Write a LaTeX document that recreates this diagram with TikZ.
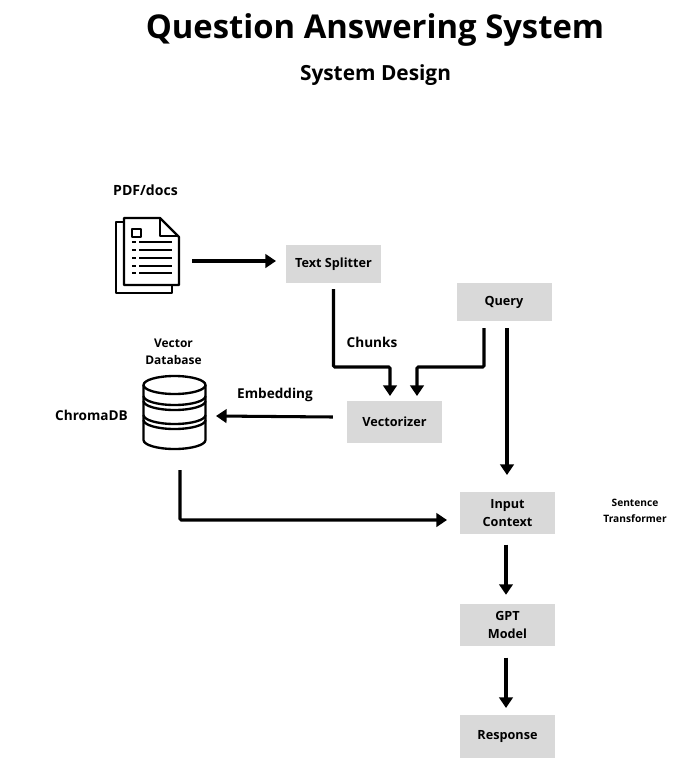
\documentclass[tikz,border=0pt]{standalone}
\usepackage{fontspec}
\setmainfont{Open Sans}
\usetikzlibrary{positioning}
\usetikzlibrary{arrows.meta}
\tikzset{
  procbox/.style={fill=gray!30, minimum width=2.85cm, minimum height=1.27cm, align=center, font=\bfseries\fontsize{10.8}{14.8}\selectfont, inner sep=0pt},
  label/.style={align=center, font=\bfseries\fontsize{11.6}{14}\selectfont, inner sep=0pt},
  flow/.style={-{Triangle[width=11.5pt,length=9pt]}, line width=2.6pt, rounded corners=1pt},
  icon/.style={line width=2pt, line join=round}
}
\begin{document}
\begin{tikzpicture}[x=0.03cm,y=-0.03cm]
            \useasboundingbox (0,0) rectangle (697,780);
            % Headings
            \node[font=\bfseries\fontsize{28}{34}\selectfont, inner sep=0pt] (title) at (375,30) {Question Answering System};
            \node[font=\bfseries\fontsize{17.8}{20}\selectfont, inner sep=0pt] (subtitle) at (375.5,75) {System Design};

            % Process boxes
            \node[procbox, minimum height=1.14cm] (splitter) at (333.5,264) {\raisebox{-2.6pt}{Text Splitter}};
            \node[procbox, minimum height=1.14cm] (query) at (504,302) {\raisebox{-3pt}{Query}};
            \node[procbox] (vectorizer) at (394.5,422) {\raisebox{-0.8pt}{Vectorizer}};
            \node[procbox] (context) at (507.5,513) {Input\\Context};
            \node[procbox] (gpt) at (507.5,625) {GPT\\Model};
            \node[procbox] (response) at (507.5,736.5) {\raisebox{-3pt}{Response}};

            % Icon anchors
            \node[minimum width=1.95cm, minimum height=2.25cm, inner sep=0pt] (docs) at (147.5,255) {};
            \node[minimum width=1.86cm, minimum height=2.28cm, inner sep=0pt] (database) at (174,413) {};

            % Document icon
            \draw[icon] (124,222) -- (116,222) -- (116,293) -- (172,293) -- (172,285);
            \draw[icon] (124,218) -- (160,218) -- (179,237) -- (179,285) -- (124,285) -- cycle;
            \draw[icon] (160,218) -- (160,236) -- (179,236);
            \draw[icon] (132,229) rectangle (141,237);
            \foreach \rowy in {242,250,258,266,273} {
                \draw[icon] (132,\rowy) -- (136,\rowy);
                \draw[icon] (139,\rowy) -- (172,\rowy);
            }

            % Database icon
            \draw[icon] (174.5,385) ellipse [x radius=31, y radius=9];
            \draw[icon] (143.5,385) -- (143.5,440) arc [start angle=180, end angle=360, x radius=31, y radius=-9] -- (205.5,385);
            \foreach \arcy in {396,401,415,420} {
                \draw[icon] (143.5,\arcy) arc [start angle=180, end angle=360, x radius=31, y radius=-9];
            }

            % Labels
            \node[label, font=\bfseries\fontsize{12}{14}\selectfont] (pdflabel) at (145.5,190.5) {PDF/docs};
            \node[label, font=\bfseries\fontsize{10.2}{14.5}\selectfont] (dblabel) at (173.5,351.5) {Vector\\Database};
            \node[label] (chromalabel) at (91.5,415) {ChromaDB};
            \node[label] (chunkslabel) at (372,342.5) {Chunks};
            \node[label] (embedlabel) at (275,394.5) {Embedding};
            \node[label, font=\bfseries\fontsize{8.7}{13.5}\selectfont] (stlabel) at (635,510.5) {Sentence\\Transformer};

            % Arrow ends
            \coordinate (chunksin) at (390,396);
            \coordinate (queryin) at (417,396);
            \coordinate (queryleft) at (484,328);
            \coordinate (queryright) at (507,328);

            \draw[flow] (docs.east |- 0,261) ++(12,0) -- (276,261);
            \draw[flow, shorten <=5pt] (splitter.south) |- (390,367) -- (chunksin);
            \draw[flow] (queryleft) |- (417,367) -- (queryin);
            \draw[flow] (queryright) -- (queryright |- 0,475);
            \draw[flow, shorten <=0pt] (vectorizer.west |- 0,417) ++(-14,0) -- (216,416);
            \draw[flow] (180,470) |- (447,520);
            \draw[flow, shorten <=9pt, shorten >=7pt] (506,534) -- (506,603);
            \draw[flow, shorten <=10pt, shorten >=6pt] (506,646) -- (506,715);
        \end{tikzpicture}
\end{document}
